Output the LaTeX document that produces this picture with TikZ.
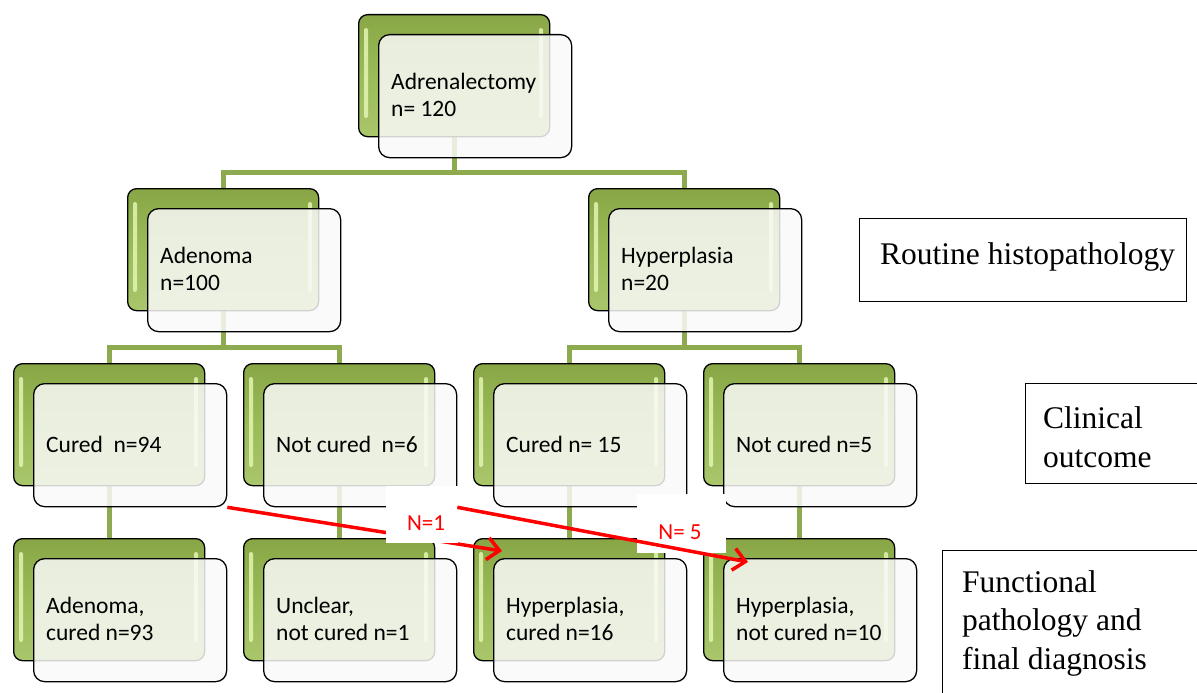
\documentclass[tikz,border=0pt]{standalone}
\usepackage{fontspec}
\setmainfont{Liberation Serif}
\newfontfamily\calib{Carlito}
\usetikzlibrary{arrows.meta,calc}
\pgfdeclarelayer{background}
\pgfsetlayers{background,main}
\definecolor{gtop}{HTML}{88A645}
\definecolor{gmid}{HTML}{9BBB59}
\definecolor{gbot}{HTML}{A9C66B}
\definecolor{hlc}{HTML}{E4F5B4}
\definecolor{conn}{HTML}{8EAA4F}
\definecolor{redc}{HTML}{FF0000}
\tikzset{
  backbox/.style={draw=black, line width=1.3pt, rounded corners=9pt, minimum width=191pt, minimum height=122pt, anchor=north west, inner sep=0pt, top color=gtop, bottom color=gbot, middle color=gmid},
  frontbox/.style={draw=black, line width=1.3pt, rounded corners=11pt, minimum width=193pt, minimum height=123pt, anchor=north west, inner sep=0pt, fill=black!2, fill opacity=0.84},
  hl/.style={fill=hlc, opacity=0.85},
  txt/.style={anchor=west, align=left, inner sep=0pt, font=\calib\fontsize{23.5}{26.5}\selectfont},
  connline/.style={draw=conn, line width=5pt},
  redarrow/.style={draw=redc, line width=3.5pt, -{Straight Barb[length=12pt,width=22pt]}},
  nbox/.style={fill=white, inner sep=0pt, anchor=north west},
  ntext/.style={inner sep=0pt, font=\calib\fontsize{23}{26}\selectfont, text=redc},
  sidebox/.style={draw=black, line width=1.3pt, anchor=north west, inner sep=0pt},
  sidetext/.style={anchor=base west, align=left, inner sep=0pt, font=\fontsize{31.5}{38.5}\selectfont}
}
\newcommand\mybox[4]{%
  \node[backbox] (b#1) at (#2,#3) {};
  \fill[hl, rounded corners=2pt] (#2+6,#3+14) rectangle (#2+10,#3+104);
  \fill[hl, rounded corners=2pt] (#2+181,#3+14) rectangle (#2+185,#3+104);
  \node[frontbox] (f#1) at (#2+20,#3+20) {};
  \node[txt] (t#1) at (#2+33,#3+81) {#4};
}
\begin{document}
\begin{tikzpicture}[x=1pt,y=-1pt]
\useasboundingbox (0,0) rectangle (1197,693);
% boxes
\mybox{1}{358}{14}{Adrenalectomy\\n= 120}
\mybox{2}{127}{188}{Adenoma\\n=100}
\mybox{3}{588}{188}{Hyperplasia\\n=20}
\mybox{31}{13}{363}{Cured\hspace{0.45em}n=94}
\mybox{32}{243}{363}{Not cured\hspace{0.45em}n=6}
\mybox{33}{473}{363}{Cured n= 15}
\mybox{34}{703}{363}{Not cured n=5}
\mybox{41}{13}{538}{Adenoma,\\cured n=93}
\mybox{42}{243}{538}{Unclear,\\not cured n=1}
\mybox{43}{473}{538}{Hyperplasia,\\cured n=16}
\mybox{44}{703}{538}{Hyperplasia,\\not cured n=10}
% connectors
\coordinate (bar1) at (453,172);
\coordinate (bar2) at (222,347);
\coordinate (bar3) at (683,347);
\begin{pgfonlayer}{background}
  \fill[white] (0,0) rectangle (1197,693);
  \draw[connline] (b1.center) -- (b1.center |- bar1);
  \draw[connline] (b2.north) -- (b2.north |- bar1) -- (b3.north |- bar1) -- (b3.north);
  \draw[connline] (b2.center) -- (b2.center |- bar2);
  \draw[connline] (b31.north) -- (b31.north |- bar2) -- (b32.north |- bar2) -- (b32.north);
  \draw[connline] (b3.center) -- (b3.center |- bar3);
  \draw[connline] (b33.north) -- (b33.north |- bar3) -- (b34.north |- bar3) -- (b34.north);
  \draw[connline] (b31.center) -- (b41.north);
  \draw[connline] (b32.center) -- (b42.north);
  \draw[connline] (b33.center) -- (b43.north);
  \draw[connline] (b34.center) -- (b44.north);
\end{pgfonlayer}
% red arrows
\coordinate (a1) at (502,551);
\coordinate (a2) at (748,562);
\draw[redarrow] (f31.south east) -- (a1);
\node[nbox, minimum width=72pt, minimum height=57pt] (n1) at (386,486) {};
\node[ntext] (n1t) at (426,523) {N=1};
\node[nbox, minimum width=89pt, minimum height=59pt] (n5) at (637,494) {};
\node[ntext] (n5t) at (680,532) {N= 5};
\draw[redarrow] (f32.south east) -- (a2);
% side boxes
\node[sidebox, minimum width=327pt, minimum height=83pt] (s1) at (859,218) {};
\node[sidetext] (s1t) at (880,264) {Routine histopathology};
\node[sidebox, minimum width=173pt, minimum height=100pt] (s2) at (1025,383) {};
\node[sidetext] (s2t) at (1043,467) {Clinical\\outcome};
\node[sidebox, minimum width=256pt, minimum height=150pt] (s3) at (942,550) {};
\node[sidetext] (s3t) at (962,669) {Functional\\pathology and\\final diagnosis};
\end{tikzpicture}
\end{document}
